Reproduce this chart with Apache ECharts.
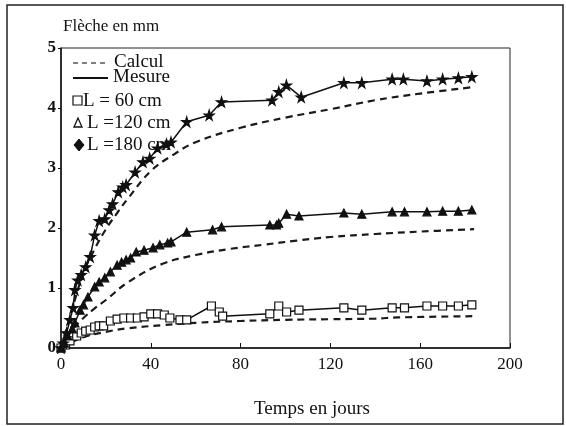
<!DOCTYPE html>
<html>
<head>
<meta charset="utf-8">
<script src="https://cdn.jsdelivr.net/npm/echarts@6/dist/echarts.min.js"></script>
<style>html,body{margin:0;padding:0;background:#fff}#c{width:566px;height:426px}</style>
</head>
<body>
<div id="c"></div>
<script>
// Measured (Mesure) series: [time in days, deflection in mm]
var mesure60 = [[0,0],[2,0.05],[4,0.12],[7,0.2],[9,0.25],[11,0.28],[13,0.3],[15,0.35],[17,0.37],[19,0.37],[22,0.45],[25,0.48],[28,0.5],[31,0.5],[34,0.5],[37,0.52],[40,0.57],[43,0.57],[46,0.55],[48.5,0.5],[53,0.47],[56,0.47],[67,0.7],[70.5,0.6],[72,0.53],[93,0.57],[97,0.7],[100.5,0.6],[106,0.63],[126,0.67],[134,0.63],[147.5,0.67],[153,0.67],[163,0.7],[170,0.7],[177,0.7],[183,0.72]];
var mesure120 = [[0,0],[1.5,0.08],[3,0.2],[5,0.32],[6.2,0.42],[8.5,0.63],[10,0.72],[12,0.85],[15,1.02],[17,1.1],[19.5,1.17],[22,1.27],[25,1.38],[27,1.43],[29,1.47],[31,1.5],[33.5,1.6],[37,1.63],[41,1.67],[44,1.72],[47.5,1.75],[49,1.77],[56,1.93],[67.5,1.97],[71.5,2.02],[93,2.05],[96,2.05],[97,2.08],[100.5,2.23],[106,2.2],[126,2.25],[134,2.23],[147.5,2.27],[153,2.27],[163,2.27],[170,2.28],[177,2.28],[183,2.3]];
var mesure180 = [[0,0],[1,0.08],[2.5,0.25],[4,0.47],[5.4,0.67],[6.2,0.97],[7.5,1.13],[9,1.22],[11,1.35],[13,1.52],[15,1.88],[17,2.12],[19.5,2.15],[21.5,2.3],[23,2.4],[25.5,2.6],[27.5,2.68],[29,2.72],[33,2.93],[36.5,3.1],[39.5,3.16],[43,3.33],[47,3.4],[49,3.43],[56,3.77],[66,3.88],[71.5,4.1],[94,4.13],[97,4.27],[100.4,4.38],[107,4.18],[126,4.42],[134,4.42],[147.5,4.48],[152.5,4.48],[163,4.45],[170,4.48],[177,4.5],[183,4.52]];
// Calculated (Calcul) curves
var calcul60 = [[0,0],[5,0.1],[10,0.18],[20,0.27],[30,0.33],[45,0.38],[60,0.42],[80,0.45],[100,0.47],[120,0.48],[140,0.49],[150,0.51],[184,0.53]];
var calcul120 = [[0,0],[5,0.3],[10,0.5],[15,0.66],[20,0.8],[30,1.1],[45,1.4],[60,1.55],[75,1.65],[90,1.72],[105,1.79],[120,1.85],[140,1.9],[160,1.94],[184,1.98]];
var calcul180 = [[0,0],[5,0.65],[10,1.25],[15,1.65],[20,1.98],[25,2.25],[30,2.5],[40,2.95],[50,3.22],[60,3.43],[80,3.67],[100,3.84],[120,3.98],[140,4.13],[160,4.24],[184,4.35]];
var xTicks = [0, 40, 80, 120, 160, 200];
var yTicks = [0, 1, 2, 3, 4, 5];

var FONT = 'Liberation Serif';
var STAR = 'path://M50,0 L61,35 L98,35 L68,57 L79,91 L50,70 L21,91 L32,57 L2,35 L39,35 Z';

function measured(data, symbol, size, fill) {
  return {
    type: 'line', data: data, symbol: symbol, symbolSize: size, showAllSymbol: true,
    lineStyle: { color: '#111', width: 1.5 },
    itemStyle: { color: fill, borderColor: '#111', borderWidth: 1.2 },
    z: 3
  };
}
function calc(data) {
  return {
    type: 'line', data: data, symbol: 'none', smooth: 0.4,
    lineStyle: { color: '#1a1a1a', width: 2.2, type: [7, 5] }, z: 2
  };
}

var chart = echarts.init(document.getElementById('c'));
chart.setOption({
  animation: false,
  backgroundColor: '#fff',
  grid: { left: 61, top: 48, right: 56, bottom: 78, show: true, borderColor: '#222', borderWidth: 1 },
  xAxis: {
    type: 'value', min: 0, max: 200, interval: 40,
    axisLine: { lineStyle: { color: '#111', width: 1.5 } },
    axisTick: { inside: true, length: 5, lineStyle: { color: '#111' } },
    axisLabel: { fontFamily: FONT, fontSize: 17, color: '#111', margin: 8,
      formatter: function (v) { return xTicks.indexOf(v) >= 0 ? String(v) : ''; } },
    splitLine: { show: false }
  },
  yAxis: {
    type: 'value', min: 0, max: 5, interval: 1,
    axisLine: { show: true, lineStyle: { color: '#111', width: 1.5 } },
    axisTick: { show: true, inside: false, length: 3, lineStyle: { color: '#111' } },
    axisLabel: { fontFamily: FONT, fontSize: 17, fontWeight: 'bold', color: '#111', margin: 5,
      formatter: function (v) { return yTicks.indexOf(v) >= 0 ? String(v) : ''; } },
    splitLine: { show: false }
  },
  series: [
    calc(calcul60), calc(calcul120), calc(calcul180),
    measured(mesure60, 'rect', 8, '#fff'),
    measured(mesure120, 'triangle', 8, '#111'),
    measured(mesure180, STAR, 10, '#111')
  ],
  graphic: [
    { type: 'rect', shape: { x: 7, y: 5, width: 556, height: 419 }, style: { fill: 'none', stroke: '#222', lineWidth: 1.5 }, silent: true },
    { type: 'text', left: 63, top: 18, style: { text: 'Flèche en mm', font: '17px "' + FONT + '"', fill: '#111' } },
    { type: 'text', x: 312, y: 409, style: { text: 'Temps en jours', font: '19px "' + FONT + '"', fill: '#111', align: 'center', verticalAlign: 'middle' } },
    { type: 'line', shape: { x1: 73, y1: 63, x2: 108, y2: 63 }, style: { stroke: '#555', lineWidth: 1.3, lineDash: [5, 4] } },
    { type: 'text', x: 114, y: 62, style: { text: 'Calcul', font: '19px "' + FONT + '"', fill: '#111', verticalAlign: 'middle' } },
    { type: 'line', shape: { x1: 73, y1: 78, x2: 108, y2: 78 }, style: { stroke: '#111', lineWidth: 1.8 } },
    { type: 'text', x: 113, y: 77, style: { text: 'Mesure', font: '19px "' + FONT + '"', fill: '#111', verticalAlign: 'middle' } },
    { type: 'rect', shape: { x: 73, y: 96, width: 9, height: 9 }, style: { fill: '#fff', stroke: '#111', lineWidth: 1.2 } },
    { type: 'text', x: 83, y: 101, style: { text: 'L = 60 cm', font: '19px "' + FONT + '"', fill: '#111', verticalAlign: 'middle' } },
    { type: 'polygon', shape: { points: [[78, 118], [74, 127], [82, 127]] }, style: { fill: 'none', stroke: '#111', lineWidth: 1.3 } },
    { type: 'text', x: 87, y: 123, style: { text: 'L =120 cm', font: '19px "' + FONT + '"', fill: '#111', verticalAlign: 'middle' } },
    { type: 'polygon', shape: { points: [[79, 139], [84, 145], [79, 151], [74, 145]] }, style: { fill: '#111', stroke: '#111', lineWidth: 1 } },
    { type: 'text', x: 87, y: 145, style: { text: 'L =180 cm', font: '19px "' + FONT + '"', fill: '#111', verticalAlign: 'middle' } }
  ]
});
</script>
</body>
</html>
